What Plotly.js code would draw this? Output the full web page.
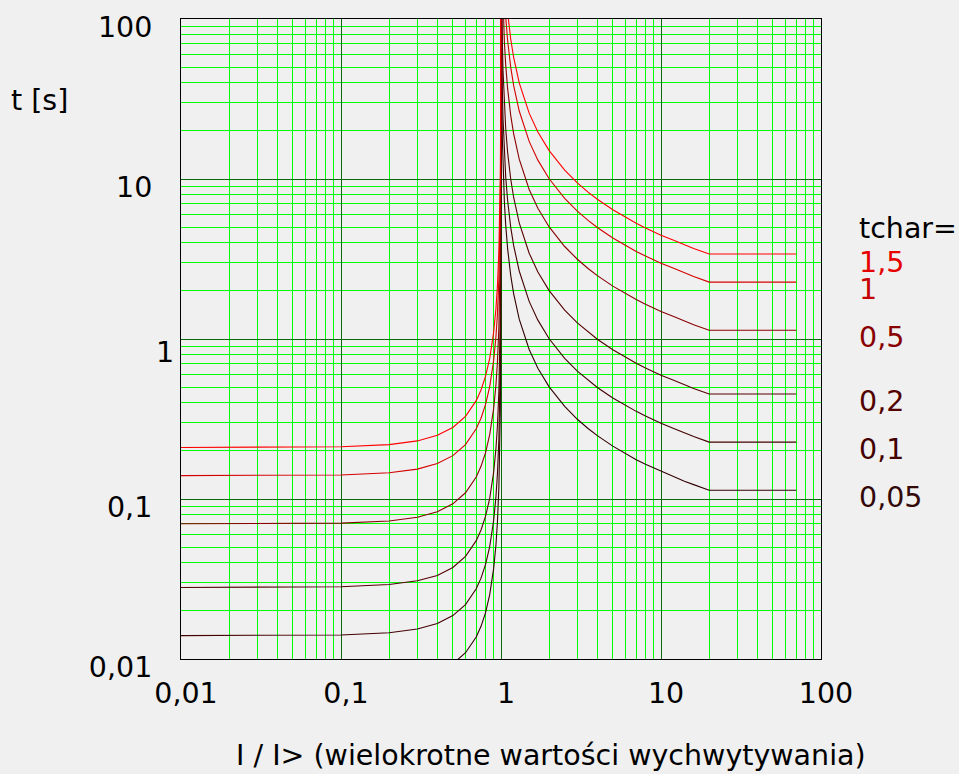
<!DOCTYPE html>
<html>
<head>
<meta charset="utf-8">
<script src="https://cdn.plot.ly/plotly-3.0.1.min.js"></script>
<style>html,body{margin:0;padding:0;background:#f0f0f0;}</style>
</head>
<body>
<div id="chart" style="width:959px;height:774px;"></div>
<script>
// Current multiples I/I> (x) for the left (I<1) and right (I>1) branches
const xLeft  = [0.01, 0.05, 0.1, 0.2, 0.3, 0.4, 0.5, 0.6, 0.7, 0.75, 0.8, 0.85, 0.9, 0.93, 0.95, 0.97, 0.98, 0.99, 0.995, 0.998, 0.999, 0.9995, 0.9999];
const xRight = [1.0001, 1.001, 1.005, 1.01, 1.02, 1.03, 1.05, 1.07, 1.1, 1.15, 1.2, 1.3, 1.5, 1.7, 2, 2.5, 3, 3.5, 4, 5, 6, 7, 8, 10, 12, 14, 16, 20, 70];

// Time values t [s], per tchar setting
const t150L = [0.2100, 0.2106, 0.2121, 0.2187, 0.2307, 0.2500, 0.2800, 0.3282, 0.4118, 0.4800, 0.5833, 0.7568, 1.105, 1.554, 2.154, 3.554, 5.303, 10.55, 21.06, 52.56, 105.1, 210, 1050];
const t150R = [105000, 10506, 2105, 1055, 530.1, 355.1, 215.1, 155.1, 110.1, 75.02, 57.48, 39.92, 25.79, 19.68, 15.05, 11.36, 9.453, 8.277, 7.470, 6.420, 5.756, 5.292, 4.946, 4.457, 4.146, 3.875, 3.683, 3.401, 3.401];

const t100L = [0.1400, 0.1404, 0.1414, 0.1458, 0.1538, 0.1667, 0.1867, 0.2188, 0.2745, 0.3200, 0.3889, 0.5045, 0.7368, 1.036, 1.436, 2.369, 3.535, 7.035, 14.04, 35.04, 70.04, 140.0, 700.0];
const t100R = [70000, 7004, 1403.5, 703.4, 353.4, 236.7, 143.4, 103.4, 73.37, 50.01, 38.32, 26.61, 17.19, 13.12, 10.03, 7.570, 6.302, 5.518, 4.980, 4.280, 3.837, 3.528, 3.297, 2.971, 2.764, 2.583, 2.455, 2.267, 2.267];

const t050L = [0.0700, 0.0702, 0.0707, 0.0729, 0.0769, 0.0833, 0.0933, 0.1094, 0.1373, 0.1600, 0.1944, 0.2523, 0.3684, 0.518, 0.718, 1.185, 1.768, 3.518, 7.02, 17.52, 35.02, 70.0, 350];
const t050R = [35000, 3502, 701.8, 351.7, 176.7, 118.4, 71.70, 51.70, 36.69, 25.01, 19.16, 13.31, 8.595, 6.560, 5.015, 3.785, 3.151, 2.759, 2.490, 2.140, 1.919, 1.764, 1.649, 1.486, 1.382, 1.292, 1.228, 1.134, 1.134];

const t020L = [0.0280, 0.0281, 0.0283, 0.0292, 0.0308, 0.0333, 0.0373, 0.0438, 0.0549, 0.0640, 0.0778, 0.1009, 0.1474, 0.2072, 0.2872, 0.4738, 0.707, 1.407, 2.808, 7.008, 14.01, 28.0, 140];
const t020R = [14000, 1401, 280.7, 140.7, 70.68, 47.34, 28.68, 20.68, 14.67, 10.00, 7.664, 5.322, 3.438, 2.624, 2.006, 1.514, 1.260, 1.104, 0.996, 0.856, 0.767, 0.706, 0.659, 0.594, 0.553, 0.517, 0.491, 0.4534, 0.4534];

const t010L = [0.0140, 0.01404, 0.01414, 0.01458, 0.01538, 0.01667, 0.01867, 0.02188, 0.02745, 0.0320, 0.03889, 0.05045, 0.07368, 0.1036, 0.1436, 0.2369, 0.3535, 0.7035, 1.404, 3.504, 7.004, 14.0, 70.0];
const t010R = [7000, 700.4, 140.4, 70.34, 35.34, 23.67, 14.34, 10.34, 7.337, 5.001, 3.832, 2.661, 1.719, 1.312, 1.003, 0.757, 0.630, 0.552, 0.498, 0.428, 0.384, 0.353, 0.330, 0.297, 0.276, 0.258, 0.246, 0.2267, 0.2267];

const t005L = [0.0070, 0.00702, 0.00707, 0.00729, 0.00769, 0.00833, 0.00933, 0.01094, 0.01373, 0.0160, 0.01944, 0.02523, 0.03684, 0.0518, 0.0718, 0.1185, 0.1768, 0.3518, 0.702, 1.752, 3.502, 7.00, 35.0];
const t005R = [3500, 350.2, 70.18, 35.17, 17.67, 11.84, 7.170, 5.170, 3.669, 2.501, 1.916, 1.331, 0.860, 0.656, 0.502, 0.379, 0.315, 0.276, 0.249, 0.214, 0.192, 0.176, 0.165, 0.149, 0.138, 0.129, 0.123, 0.1134, 0.1134];

const seriesLabels = ['1,5', '1', '0,5', '0,2', '0,1', '0,05'];
const seriesLeft   = [t150L, t100L, t050L, t020L, t010L, t005L];
const seriesRight  = [t150R, t100R, t050R, t020R, t010R, t005R];
const seriesColors = ['#ff0000', '#d40000', '#8a0000', '#560000', '#440000', '#320000'];
const labelColors  = ['#e60000', '#c40000', '#880000', '#520000', '#420000', '#320808'];
const labelYs      = [0.620, 0.577, 0.503, 0.403, 0.328, 0.252];

const xTickVals = [0.01, 0.1, 1, 10, 100];
const xTickText = ['0,01', '0,1', '1', '10', '100'];
const yTickVals = [0.01, 0.1, 1, 10, 100];
const yTickText = ['0,01', '0,1', '', '10', '100'];   // the "1" label sits offset in the reference, drawn below

// draw the smallest tchar first so the red curves end up on top
const traces = seriesLabels.map((lab, i) => ({
  type: 'scatter',
  mode: 'lines',
  x: xLeft.concat(xRight),
  y: seriesLeft[i].concat(seriesRight[i]),
  line: {color: seriesColors[i], width: 1.1},
  name: 'tchar=' + lab,
  hoverinfo: 'skip',
  showlegend: false
})).reverse();

const FONT = 'DejaVu Sans, sans-serif';
const FS = 28.5;

const annotations = [
  {text: 't [s]', xref: 'paper', yref: 'paper', x: -0.221, y: 0.872, xanchor: 'center', yanchor: 'middle', showarrow: false, font: {family: FONT, size: FS, color: '#000'}},
  {text: '1', xref: 'paper', yref: 'y', x: -0.025, y: Math.log10(yTickVals[2]), yshift: -13, xanchor: 'center', yanchor: 'middle', showarrow: false, font: {family: FONT, size: FS, color: '#000'}},
  {text: 'I / I> (wielokrotne wartości wychwytywania)', xref: 'paper', yref: 'paper', x: 0.578, y: -0.150, xanchor: 'center', yanchor: 'middle', showarrow: false, font: {family: FONT, size: FS, color: '#000'}},
  {text: 'tchar=', xref: 'paper', yref: 'paper', x: 1.057, y: 0.673, xanchor: 'left', yanchor: 'middle', showarrow: false, font: {family: FONT, size: FS, color: '#000'}}
].concat(seriesLabels.map((lab, i) => ({
  text: lab, xref: 'paper', yref: 'paper', x: 1.057, y: labelYs[i], xanchor: 'left', yanchor: 'middle', showarrow: false,
  font: {family: FONT, size: FS, color: labelColors[i]}
})));

const axisCommon = {
  type: 'log',
  range: [-2.00002, 2.00002],
  showgrid: true,
  gridcolor: '#0a6a0a',
  gridwidth: 1,
  minor: {dtick: 'D1', showgrid: true, gridcolor: '#00ff00', gridwidth: 1, ticks: ''},
  showline: true,
  mirror: true,
  linecolor: '#000000',
  linewidth: 1,
  zeroline: false,
  ticks: '',
  fixedrange: true,
  tickfont: {family: FONT, size: FS, color: '#000'}
};

const layout = {
  width: 959,
  height: 774,
  margin: {l: 181, r: 138, t: 19, b: 115, pad: 0},
  paper_bgcolor: '#f0f0f0',
  plot_bgcolor: '#f0f0f0',
  showlegend: false,
  xaxis: Object.assign({}, axisCommon, {tickvals: xTickVals, ticktext: xTickText, ticklabelstandoff: 9, ticklabelshift: 5}),
  yaxis: Object.assign({}, axisCommon, {tickvals: yTickVals, ticktext: yTickText, ticklabelstandoff: 22, ticklabelshift: 8}),
  annotations: annotations
};

Plotly.newPlot('chart', traces, layout, {staticPlot: true, displayModeBar: false});
</script>
</body>
</html>
